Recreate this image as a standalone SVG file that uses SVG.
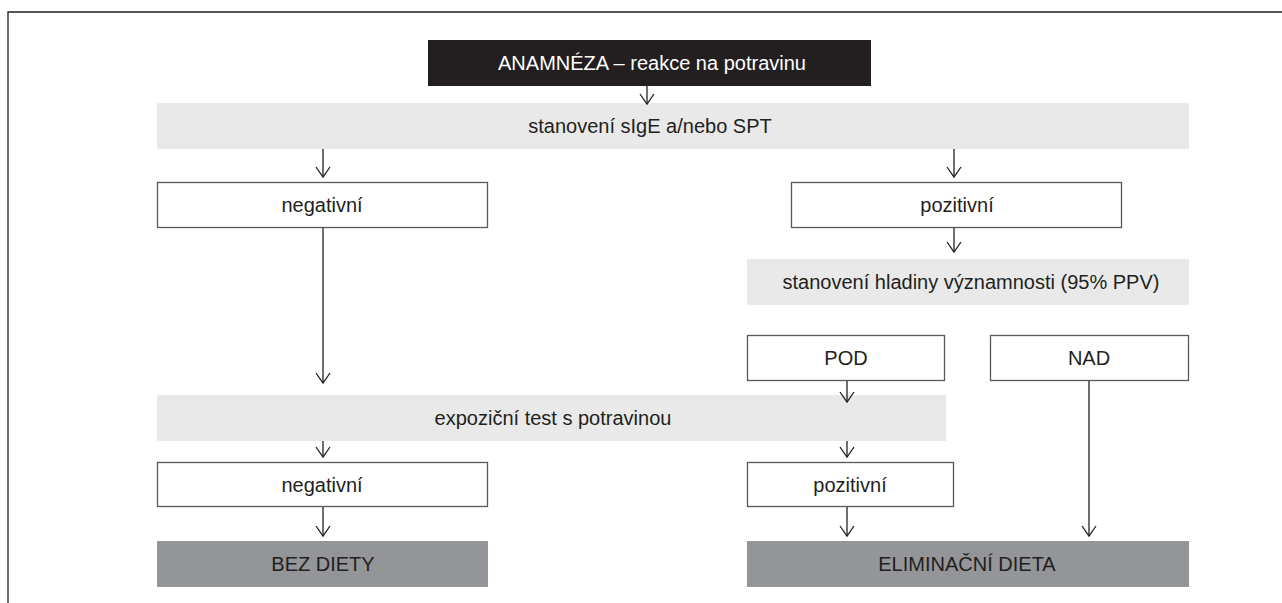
<svg xmlns="http://www.w3.org/2000/svg" width="1282" height="603" viewBox="0 0 1282 603">
<defs>
<style>
.t{font-family:"Liberation Sans",Arial,sans-serif;font-size:20px;fill:#231f20;text-anchor:middle}
.w{fill:#ffffff}
.box{fill:#ffffff;stroke:#58595b;stroke-width:1.3}
.bar{fill:#e9e9ea}
.dark{fill:#231f20}
.grey{fill:#939598}
.ln{fill:none;stroke:#231f20;stroke-width:1.3}
</style>
<marker id="ah" markerUnits="userSpaceOnUse" markerWidth="20" markerHeight="20" viewBox="-10 -14 20 20" refX="0" refY="0" orient="auto-start-reverse" overflow="visible">
<path d="M-7,-10 L0,0 L7,-10" fill="none" stroke="#231f20" stroke-width="1.3" transform="rotate(-90)"/>
</marker>
</defs>
<rect width="1282" height="603" fill="#ffffff"/>
<path class="ln" d="M8,603 V12 H1282"/>

<g id="n-anamneza"><rect class="dark" x="428" y="40" width="443" height="46"/><text class="t w" x="652" y="70">ANAMNÉZA – reakce na potravinu</text></g>
<g id="n-stanoveni"><rect class="bar" x="157" y="103" width="1032" height="46"/><text class="t" x="650" y="133">stanovení sIgE a/nebo SPT</text></g>
<g id="n-negativni1"><rect class="box" x="157.5" y="182.5" width="330" height="45"/><text class="t" x="322" y="212">negativní</text></g>
<g id="n-pozitivni1"><rect class="box" x="791.5" y="182.5" width="330" height="45"/><text class="t" x="957" y="212">pozitivní</text></g>
<g id="n-hladina"><rect class="bar" x="747" y="259" width="442" height="46"/><text class="t" x="971" y="289">stanovení hladiny významnosti (95% PPV)</text></g>
<g id="n-pod"><rect class="box" x="747.5" y="335.5" width="197" height="45"/><text class="t" x="846" y="365">POD</text></g>
<g id="n-nad"><rect class="box" x="990.5" y="335.5" width="198" height="45"/><text class="t" x="1089" y="365">NAD</text></g>
<g id="n-expozicni"><rect class="bar" x="157" y="395" width="789" height="46"/><text class="t" x="553" y="425">expoziční test s potravinou</text></g>
<g id="n-negativni2"><rect class="box" x="157.5" y="462.5" width="330" height="44"/><text class="t" x="322" y="492">negativní</text></g>
<g id="n-pozitivni2"><rect class="box" x="747.5" y="462.5" width="206" height="44"/><text class="t" x="850" y="492">pozitivní</text></g>
<g id="n-bezdiety"><rect class="grey" x="157" y="541" width="331" height="46"/><text class="t" x="323" y="571">BEZ DIETY</text></g>
<g id="n-eliminacni"><rect class="grey" x="747" y="541" width="442" height="46"/><text class="t" x="967" y="571">ELIMINAČNÍ DIETA</text></g>

<g id="connectors" class="ln" marker-end="url(#ah)">
<path d="M647,86 V104"/>
<path d="M323,149 V177"/>
<path d="M954,149 V177"/>
<path d="M954,228 V252"/>
<path d="M323,228 V383"/>
<path d="M847,381 V402"/>
<path d="M323,441 V457"/>
<path d="M847,441 V457"/>
<path d="M323,507 V536"/>
<path d="M847,507 V536"/>
<path d="M1089,381 V536"/>
</g>
</svg>
